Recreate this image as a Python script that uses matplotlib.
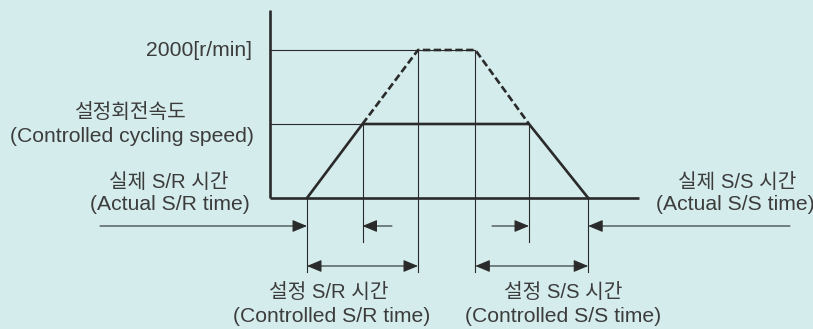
import numpy as np
import matplotlib
matplotlib.use('Agg')
import matplotlib.pyplot as plt

plt.rcParams['font.family'] = ['Liberation Sans', 'Noto Sans CJK KR', 'DejaVu Sans']

#Data (time in arbitrary units, speed in r/min)
t_events = [1.0, 2.5, 4.0, 5.55, 7.0, 8.6]   # start, reach set, reach max, leave max, leave set, stop
v_set = 1000
v_max = 2000
t_axis_end = 9.97
v_axis_top = 2540
max_label = '2000[r/min]'

#Scale (pixels per unit) so the drawing fits the 813x329 canvas
W, H = 813, 329
PX_T = 37.0
PX_V = 148.0 / 2000
X0, Y0 = 270, 198   # pixel position of the origin

BG = '#d5ecec'
INK = '#2a2a2a'
TXT = '#3c3c3c'

fig = plt.figure(figsize=(W / 100, H / 100), dpi=100)
fig.patch.set_facecolor(BG)
ax = fig.add_axes([0, 0, 1, 1])
ax.set_facecolor(BG)
ax.set_xlim(-X0 / PX_T, (W - X0) / PX_T)
ax.set_ylim(-(H - Y0) / PX_V, Y0 / PX_V)
ax.axis('off')

t0, t1, t2, t3, t4, t5 = t_events
v_row1 = -(226 - Y0) / PX_V
v_row2 = -(266 - Y0) / PX_V
v_short = -(242 - Y0) / PX_V
v_long = -(272 - Y0) / PX_V

#Axes
ax.plot([0, 0], [0, v_axis_top], color=INK, lw=1.9, solid_capstyle='butt')
ax.plot([0, t_axis_end], [0, 0], color=INK, lw=1.9, solid_capstyle='butt')

#Thin reference lines
thin = dict(color=INK, lw=0.8)
ax.plot([0, t3], [v_max, v_max], **thin)
ax.plot([0, t1], [v_set, v_set], **thin)
ax.plot([t0, t0], [0, v_long], **thin)
ax.plot([t1, t1], [v_set, v_short], **thin)
ax.plot([t2, t2], [v_max, v_long], **thin)
ax.plot([t3, t3], [v_max, v_long], **thin)
ax.plot([t4, t4], [v_set, v_short], **thin)
ax.plot([t5, t5], [0, v_long], **thin)

#Speed profile
ax.plot([t0, t1, t4, t5], [0, v_set, v_set, 0], color=INK, lw=1.9)
ax.plot([t1, t2, t3, t4], [v_set, v_max, v_max, v_set], color=INK, lw=1.9,
        linestyle=(0, (2.8, 1.3)))

#Arrows
def arrow(xa, xb, y, style='-|>'):
    ax.annotate('', xy=(xb, y), xytext=(xa, y),
                arrowprops=dict(arrowstyle=style + ',head_length=0.6,head_width=0.25',
                                color=INK, lw=0.8, shrinkA=0, shrinkB=0,
                                mutation_scale=15))

arrow((100 - X0) / PX_T, t0, v_row1)
arrow((392 - X0) / PX_T, t1, v_row1)
arrow((492 - X0) / PX_T, t4, v_row1)
arrow((790 - X0) / PX_T, t5, v_row1)
arrow(t0, t2, v_row2, '<|-|>')
arrow(t3, t5, v_row2, '<|-|>')

#Labels (pixel positions)
def label(x, y, s, ha='center', size=15.2):
    fig.text(x / W, 1 - y / H, s, ha=ha, va='center', fontsize=size, color=TXT)

label(252, 50, max_label, ha='right')
label(131, 113, '설정회전속도', size=14.6)
label(132, 136, '(Controlled cycling speed)')
label(169, 182, '실제 S/R 시간', size=14.6)
label(170, 205, '(Actual S/R time)')
label(737, 183, '실제 S/S 시간', size=14.6)
label(735, 205, '(Actual S/S time)')
label(329, 292, '설정 S/R 시간', size=14.6)
label(332, 317, '(Controlled S/R time)')
label(563, 292, '설정 S/S 시간', size=14.6)
label(563, 317, '(Controlled S/S time)')

fig.savefig('out.png', dpi=100, facecolor=BG)
